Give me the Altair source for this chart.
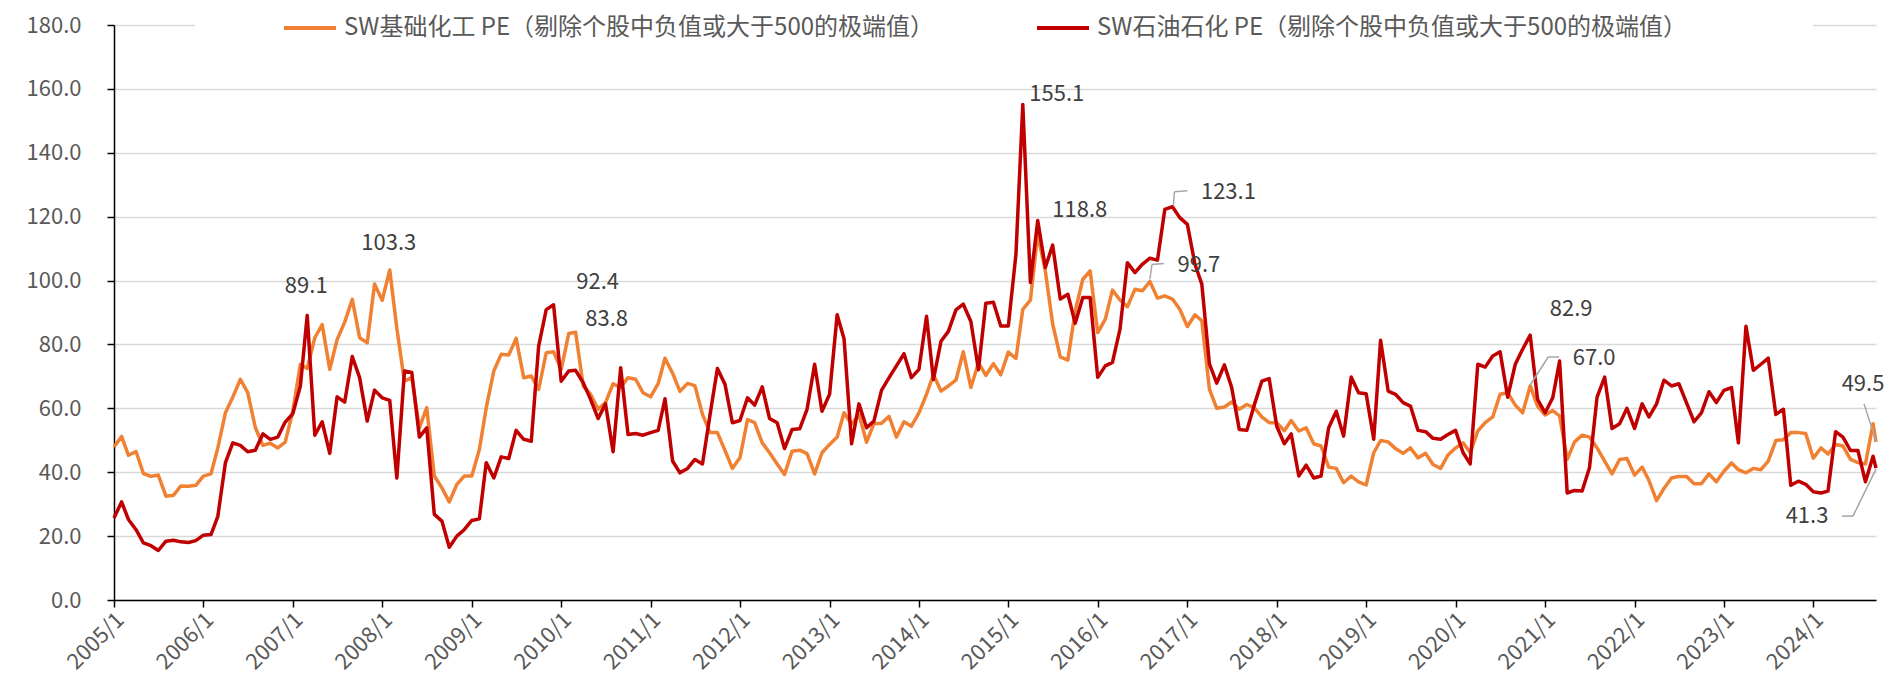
import altair as alt
import pandas as pd

# ---------------- data ----------------
CHEM = "SW基础化工 PE（剔除个股中负值或大于500的极端值）"
PETRO = "SW石油石化 PE（剔除个股中负值或大于500的极端值）"

# monthly points 2005/1 ... 2024/9, plus the latest observation
last_obs = "2024-09-13"

chem = [
    47.9, 51.2, 45.3, 46.5, 39.6, 38.7, 39.1, 32.5, 32.8, 35.7, 35.6, 35.9,   # 2005
    38.8, 39.5, 47.6, 58.6, 63.5, 69.1, 64.9, 54.0, 48.4, 49.1, 47.6, 49.4,   # 2006
    59.0, 73.8, 72.5, 82.1, 86.2, 72.2, 81.5, 87.0, 94.1, 82.1, 80.5, 98.9,   # 2007
    93.8, 103.3, 85.0, 68.5, 69.6, 53.9, 60.2, 38.8, 35.1, 30.7, 36.2, 38.8,  # 2008
    38.8, 47.1, 60.2, 71.7, 76.9, 76.7, 81.9, 69.6, 70.1, 65.9, 77.4, 77.7,   # 2009
    72.2, 83.4, 83.8, 67.0, 64.4, 59.7, 61.8, 67.7, 66.5, 69.6, 69.1, 64.9,   # 2010
    63.6, 67.7, 75.7, 71.0, 65.3, 67.8, 67.1, 58.1, 52.4, 52.4, 46.8, 41.2,   # 2011
    44.5, 56.5, 55.5, 49.2, 46.1, 42.6, 39.3, 46.6, 46.9, 45.8, 39.5, 46.1,   # 2012
    48.7, 51.0, 58.6, 55.0, 58.1, 49.4, 55.2, 55.3, 57.5, 51.0, 55.8, 54.4,   # 2013
    58.6, 64.4, 70.6, 65.4, 67.0, 68.8, 77.7, 66.5, 74.3, 70.3, 74.0, 70.5,   # 2014
    77.6, 75.6, 91.0, 93.9, 114.5, 103.0, 86.4, 76.1, 75.1, 90.5, 100.4, 103.0,  # 2015
    83.7, 87.9, 97.0, 93.9, 91.8, 97.3, 96.8, 99.7, 94.5, 95.2, 94.2, 91.0,   # 2016
    85.6, 89.3, 87.4, 66.0, 60.0, 60.4, 62.0, 59.7, 61.2, 60.2, 57.3, 55.5,   # 2017
    55.5, 53.0, 56.2, 52.9, 53.9, 48.9, 48.2, 41.6, 41.2, 36.7, 38.8, 37.0,   # 2018
    36.0, 46.1, 49.9, 49.5, 47.4, 45.9, 47.6, 44.5, 45.9, 42.4, 41.2, 45.4,   # 2019
    47.6, 49.2, 46.1, 52.9, 55.5, 57.3, 64.4, 64.9, 61.0, 58.6, 67.0, 60.7,   # 2020
    57.9, 59.3, 57.6, 44.0, 49.5, 51.6, 51.0, 47.6, 43.5, 39.5, 44.0, 44.3,   # 2021
    39.1, 41.6, 37.4, 31.1, 34.9, 38.2, 38.7, 38.7, 36.4, 36.4, 39.5, 37.0,   # 2022
    40.3, 42.9, 40.8, 39.8, 41.2, 40.8, 43.5, 49.9, 50.2, 52.4, 52.4, 52.1,   # 2023
    44.4, 47.6, 45.7, 48.7, 48.2, 44.0, 43.0, 42.6, 55.2,                     # 2024/1-9
    49.5,                                                                     # latest
]

petro = [
    25.7, 30.7, 25.2, 22.0, 17.9, 17.0, 15.5, 18.4, 18.7, 18.2, 18.0, 18.6,   # 2005
    20.3, 20.5, 26.2, 43.0, 49.2, 48.4, 46.4, 46.9, 52.0, 50.3, 51.0, 55.7,   # 2006
    58.3, 67.0, 89.1, 51.6, 55.8, 45.9, 63.6, 62.0, 76.2, 69.6, 56.0, 65.7,   # 2007
    63.3, 62.5, 38.2, 71.7, 71.2, 51.0, 53.9, 26.8, 24.7, 16.5, 20.0, 22.0,   # 2008
    24.9, 25.4, 43.0, 38.2, 44.8, 44.3, 53.1, 50.3, 49.7, 79.5, 90.9, 92.4,   # 2009
    68.5, 71.7, 71.9, 68.0, 62.8, 56.8, 61.4, 46.4, 72.7, 51.8, 52.1, 51.6,   # 2010
    52.4, 53.1, 63.0, 43.5, 39.8, 41.2, 44.0, 42.6, 58.1, 72.5, 67.5, 55.5,   # 2011
    56.2, 63.3, 61.0, 66.7, 56.8, 55.5, 47.4, 53.4, 53.6, 59.7, 73.8, 59.1,   # 2012
    64.4, 89.3, 81.8, 48.9, 61.4, 53.9, 56.0, 65.6, 69.6, 73.3, 77.1, 69.6,   # 2013
    72.2, 88.8, 69.0, 81.0, 84.1, 90.8, 92.6, 87.2, 72.1, 92.9, 93.2, 85.8,   # 2014
    85.8, 108.2, 155.1, 99.4, 118.8, 104.1, 111.1, 94.2, 95.7, 86.6, 94.7, 94.7,  # 2015
    69.7, 73.3, 74.4, 84.8, 105.6, 102.5, 105.1, 107.0, 106.4, 122.3, 123.1, 119.7,  # 2016
    117.6, 105.1, 98.9, 73.9, 67.9, 73.6, 66.5, 53.4, 53.1, 61.0, 68.5, 69.3,   # 2017
    54.4, 48.9, 52.0, 38.8, 42.2, 38.2, 38.8, 53.9, 59.1, 51.3, 69.8, 64.9,   # 2018
    64.6, 50.3, 81.3, 65.4, 64.4, 61.8, 60.7, 53.1, 52.7, 50.6, 50.3, 51.8,   # 2019
    53.1, 46.1, 42.6, 73.8, 72.9, 76.4, 77.7, 63.5, 73.8, 78.5, 82.9, 62.8,   # 2020
    58.6, 63.3, 74.8, 33.5, 34.3, 34.1, 41.4, 63.5, 69.8, 53.7, 55.2, 60.0,   # 2021
    53.7, 61.4, 57.3, 61.4, 68.8, 67.0, 67.7, 61.8, 55.8, 58.6, 65.2, 61.8,   # 2022
    65.6, 66.5, 49.2, 85.7, 71.9, 73.8, 75.7, 58.1, 59.7, 35.9, 37.2, 36.2,   # 2023
    33.9, 33.5, 34.1, 52.7, 51.0, 46.8, 46.8, 37.0, 45.0,                     # 2024/1-9
    41.3,                                                                     # latest
]

months = [d.strftime("%Y-%m-%dT00:00:00") for d in pd.date_range("2005-01-01", "2024-09-01", freq="MS")]
dates = months + [last_obs + "T00:00:00"]
assert len(dates) == len(chem) == len(petro), (len(dates), len(chem), len(petro))

year_ticks = list(range(2005, 2025))
y_ticks = [0, 20, 40, 60, 80, 100, 120, 140, 160, 180]

# annotations: (series, point index, text offset dx, dy, leader segments as pixel offsets)
annotations = [
    ("petro", 26, -1, -29, []),
    ("chem", 37, -1, -27, []),
    ("petro", 59, 44, -23, []),
    ("chem", 62, 31, -13, []),
    ("petro", 122, 34, -11, []),
    ("petro", 124, 42, -11, []),
    ("petro", 142, 56, -15, [(1, -1, 2, -15), (2, -15, 15, -16)]),
    ("chem", 139, 49, -17, [(0, -2, 2, -17), (2, -17, 14, -18)]),
    ("petro", 190, 41, -26, []),
    ("chem", 190, 64, -28, [(0, -1, 18, -29), (18, -29, 29, -29)]),
    ("chem", len(dates) - 1, -13, -58, [(0, -1, -12, -38)]),
    ("petro", len(dates) - 1, -69, 48, [(0, 1, -23, 48), (-23, 48, -34, 48)]),
]

# ---------------- styling ----------------
FONT = "Noto Sans CJK SC"
ORANGE = "#F08132"
RED = "#C00000"
GREY_TXT = "#595959"

df_chem = pd.DataFrame({"date": dates, "value": chem, "series": CHEM})
df_petro = pd.DataFrame({"date": dates, "value": petro, "series": PETRO})
series_values = {"chem": chem, "petro": petro}

x_scale = alt.Scale(
    domain=[alt.DateTime(year=2005, month=1, date=1), alt.DateTime(year=2024, month=9, date=13)],
    nice=False,
)
y_scale = alt.Scale(domain=[0, 180], nice=False)

x_axis = alt.Axis(
    values=[alt.DateTime(year=y, month=1, date=1) for y in year_ticks],
    labelExpr="timeFormat(datum.value, '%Y') + '/1'",
    labelAngle=-45, labelAlign="right", labelBaseline="middle",
    labelPadding=9, labelOffset=6,
    labelFont=FONT, labelFontSize=22, labelColor=GREY_TXT,
    labelFlush=False, labelOverlap=False, labelBound=False,
    tickSize=7, tickColor="#000000", tickWidth=1.5,
    domainColor="#000000", domainWidth=1.5, grid=False, title=None,
)
y_axis = alt.Axis(
    values=y_ticks, format=".1f",
    labelFont=FONT, labelFontSize=22, labelColor=GREY_TXT, labelPadding=26,
    tickSize=7, tickColor="#000000", tickWidth=1.5,
    domainColor="#000000", domainWidth=1.5,
    grid=True, gridColor="#D9D9D9", gridWidth=1.5, title=None,
)

color_scale = alt.Scale(domain=[CHEM, PETRO], range=[ORANGE, RED])
legend = alt.Legend(
    orient="none", legendX=81, legendY=-55, direction="horizontal",
    title=" ", titleOrient="right", titlePadding=96, titleFontSize=1,
    symbolType="stroke", symbolSize=2704, symbolStrokeWidth=4, symbolOffset=57,
    labelFont=FONT, labelFontSize=24, labelColor=GREY_TXT, labelLimit=2000,
    labelOffset=6, columnPadding=43, fillColor="white", padding=30,
)

line_chem = alt.Chart(df_chem).mark_line(strokeWidth=3.5, strokeJoin="round").encode(
    x=alt.X("date:T", scale=x_scale, axis=x_axis, title=None),
    y=alt.Y("value:Q", scale=y_scale, axis=y_axis, title=None),
    color=alt.Color("series:N", scale=color_scale, legend=legend),
)
line_petro = alt.Chart(df_petro).mark_line(strokeWidth=3.5, strokeJoin="round").encode(
    x=alt.X("date:T", title=None),
    y=alt.Y("value:Q", title=None),
    color=alt.Color("series:N"),
)

layers = [line_chem, line_petro]
for series, idx, dx, dy, leaders in annotations:
    val = series_values[series][idx]
    row = pd.DataFrame({"date": [dates[idx]], "value": [val], "label": [f"{val:.1f}"]})
    for (x1, y1, x2, y2) in leaders:
        layers.append(
            alt.Chart(row).mark_rule(
                color="#A6A6A6", strokeWidth=1.5,
                xOffset=x1, yOffset=y1, x2Offset=x2, y2Offset=y2,
            ).encode(
                x=alt.X("date:T", title=None), y=alt.Y("value:Q", title=None),
                x2="date:T", y2="value:Q",
            )
        )
    layers.append(
        alt.Chart(row).mark_text(
            dx=dx, dy=dy, align="center", baseline="middle",
            font=FONT, fontSize=22, color="#404040",
        ).encode(
            x=alt.X("date:T", title=None), y=alt.Y("value:Q", title=None),
            text="label:N",
        )
    )

chart = alt.layer(*layers).properties(
    width=1762, height=575,
    padding={"left": 106, "top": 17, "right": 8, "bottom": 79},
    autosize=alt.AutoSizeParams(type="none"),
    background="white",
).configure_view(stroke=None)

chart.save("out.html", embed_options={"renderer": "svg", "actions": False})
